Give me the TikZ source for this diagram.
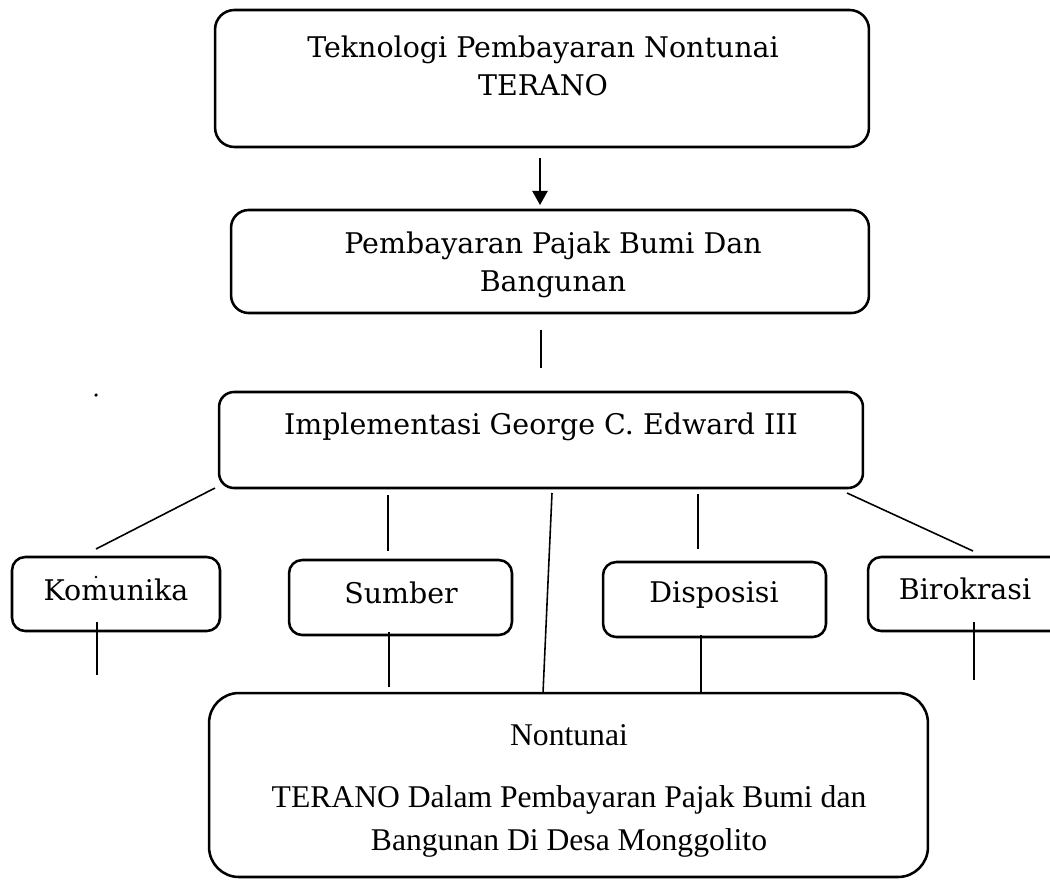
\documentclass[tikz,border=0pt]{standalone}
\usepackage{fontspec}
\setmainfont{DejaVu Serif}
\newfontfamily\nonfont{Liberation Serif}
\usetikzlibrary{arrows.meta}

\begin{document}
\begin{tikzpicture}[
    x=0.02cm, y=-0.02cm,
    box/.style = {draw=black, line width=1.45pt, rounded corners=11pt, inner sep=0pt},
    small box/.style = {box, rounded corners=7.5pt, minimum width=4.46cm, minimum height=1.48cm},
    txt/.style = {align=center, inner sep=0pt, font=\fontsize{16.2}{21.6}\selectfont},
    link/.style = {line width=0.9pt}
  ]
  \useasboundingbox (0,0) rectangle (1050,879);
  \clip (0,0) rectangle (1050,879);

  % boxes
  \node[box, minimum width=13.08cm, minimum height=2.74cm] (tek) at (542,78.5) {};
  \node[box, rounded corners=10pt, minimum width=12.76cm, minimum height=2.06cm] (pbb) at (550,261.5) {};
  \node[box, rounded corners=8.5pt, minimum width=12.88cm, minimum height=1.92cm] (impl) at (541,440) {};
  \node[small box, minimum width=4.16cm, minimum height=1.48cm] (kom) at (116,594) {};
  \node[small box, minimum height=1.5cm] (sum) at (400.5,597.5) {};
  \node[small box, minimum height=1.5cm] (dis) at (714.5,599.5) {};
  \node[small box, minimum width=4.04cm, minimum height=1.48cm] (bir) at (969,594) {};
  \node[box, rounded corners=17pt, minimum width=14.38cm, minimum height=3.68cm] (non) at (568.5,785) {};

  % texts
  \node[txt] (tekT) at (543,66) {Teknologi Pembayaran Nontunai\\TERANO};
  \begin{scope}
    \clip (231,210) rectangle (869,297);
    \node[txt] (pbbT) at (553,265) {Pembayaran Pajak Bumi Dan\\Bangunan};
  \end{scope}
  \node[txt] (implT) at (541,427) {Implementasi George C. Edward III};
  \node[txt] (komT) at (116,590) {Komunika};
  \node[txt] (sumT) at (401,593) {Sumber};
  \node[txt] (disT) at (714,595) {Disposisi};
  \node[txt] (birT) at (965,589) {Birokrasi};
  \node[txt, font=\nonfont\fontsize{18}{24.5}\selectfont] (nonA) at (569,735) {Nontunai};
  \node[txt, font=\nonfont\fontsize{18}{24.5}\selectfont] (nonB) at (569,821) {TERANO Dalam Pembayaran Pajak Bumi dan\\Bangunan Di Desa Monggolito};

  % line ends
  \coordinate (a1) at (540,158);  \coordinate (a2) at (540,205);
  \coordinate (b1) at (541,330);  \coordinate (b2) at (541,368);
  \coordinate (c1) at (215,488);  \coordinate (c2) at (96,549);
  \coordinate (d1) at (388,495);  \coordinate (d2) at (388,551);
  \coordinate (e1) at (552,493);  \coordinate (e2) at (543,693);
  \coordinate (f1) at (698,494);  \coordinate (f2) at (698,549);
  \coordinate (g1) at (847,493);  \coordinate (g2) at (973,551);
  \coordinate (h1) at (97,622);   \coordinate (h2) at (97,675);
  \coordinate (i1) at (389,632);  \coordinate (i2) at (389,687);
  \coordinate (j1) at (701,635);  \coordinate (j2) at (701,693);
  \coordinate (k1) at (974,622);  \coordinate (k2) at (974,680);

  % connectors
  \draw[link, -{Triangle[width=8.7pt,length=8pt]}] (a1) -- (a2);
  \draw[link] (b1) -- (b2);
  \draw[link] (c1) -- (c2);
  \draw[link] (d1) -- (d2);
  \draw[link] (e1) -- (e2);
  \draw[link] (f1) -- (f2);
  \draw[link] (g1) -- (g2);
  \draw[link] (h1) -- (h2);
  \draw[link] (i1) -- (i2);
  \draw[link] (j1) -- (j2);
  \draw[link] (k1) -- (k2);

  % stray dots
  \fill (96,395) circle (1pt);
  \fill (96,577) circle (0.8pt);
\end{tikzpicture}
\end{document}
